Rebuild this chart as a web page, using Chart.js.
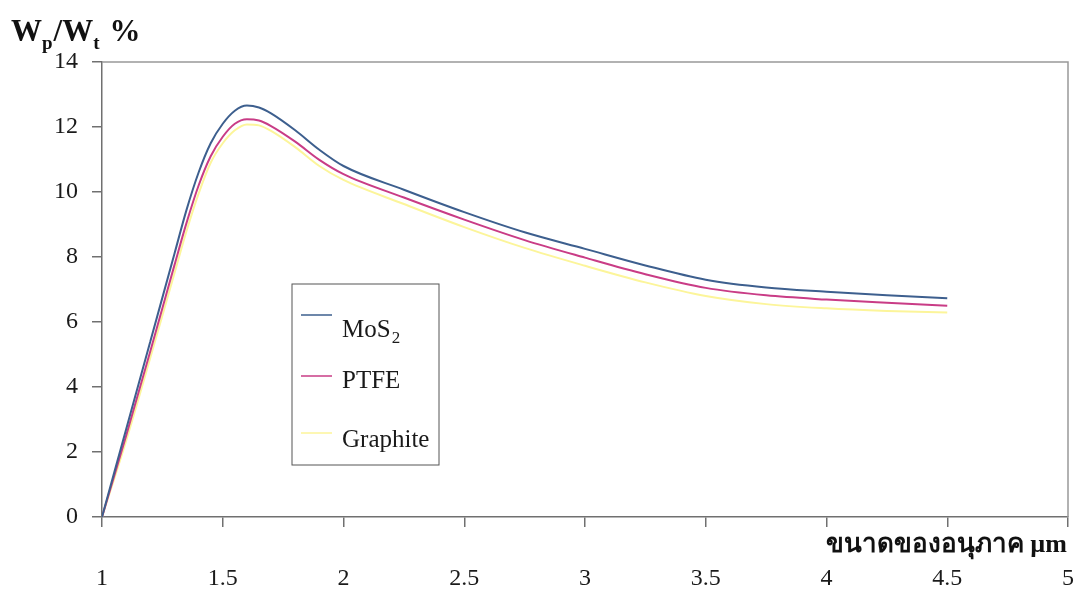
<!DOCTYPE html>
<html>
<head>
<meta charset="utf-8">
<script src="https://cdn.jsdelivr.net/npm/chart.js@4.4.1/dist/chart.umd.min.js"></script>
<style>
  html, body { margin: 0; padding: 0; background: #fff; overflow: hidden; }
</style>
</head>
<body>
<canvas id="myChart" width="1078" height="590"></canvas>
<script>
// particle size (um)
var sizes = [1.0, 1.1, 1.2, 1.3, 1.35, 1.4, 1.45, 1.5, 1.55, 1.6, 1.65, 1.7, 1.8, 1.9, 2.0,
             2.25, 2.5, 2.75, 3.0, 3.25, 3.5, 3.75, 4.0, 4.25, 4.5];

// Wp/Wt % for each lubricant
var mos2 = [0, 2.7, 5.4, 8.1, 9.45, 10.6, 11.5, 12.1, 12.5, 12.66, 12.6, 12.42, 11.9, 11.3, 10.8,
            10.07, 9.38, 8.76, 8.25, 7.74, 7.3, 7.06, 6.93, 6.82, 6.73];
var ptfe = [0, 2.5, 5.1, 7.75, 9.05, 10.2, 11.1, 11.7, 12.1, 12.24, 12.2, 12.03, 11.55, 10.99, 10.55,
            9.83, 9.15, 8.52, 7.98, 7.47, 7.05, 6.82, 6.69, 6.59, 6.5];
var graphite = [0, 2.35, 4.9, 7.5, 8.8, 9.95, 10.9, 11.5, 11.9, 12.08, 12.05, 11.88, 11.38, 10.8, 10.37,
                9.63, 8.92, 8.28, 7.73, 7.22, 6.8, 6.55, 6.42, 6.34, 6.29];

var seriesNames = ["MoS", "PTFE", "Graphite"];
var seriesSubs = ["2", "", ""];
var seriesColors = ["#3d5f8e", "#c93c86", "#fcf59a"];

var xTicks = [1, 1.5, 2, 2.5, 3, 3.5, 4, 4.5, 5];
var yTicks = [0, 2, 4, 6, 8, 10, 12, 14];

var serif = "'Liberation Serif', 'DejaVu Serif', serif";

function toPoints(values) {
    return sizes.map(function(x, i) {
        return { x: x, y: values[i] };
    });
}

function makeSet(i, values) {
    return {
        label: seriesNames[i] + seriesSubs[i],
        data: toPoints(values),
        borderColor: seriesColors[i],
        borderWidth: 2,
        pointRadius: 0,
        fill: false,
        cubicInterpolationMode: 'monotone'
    };
}

// frame, heading, axis caption and boxed legend
var decorations = {
    id: 'decorations',
    afterDraw: function(chart) {
        var ctx = chart.ctx;
        var area = chart.chartArea;
        ctx.save();

        // top and right frame lines
        ctx.strokeStyle = '#999';
        ctx.lineWidth = 1.5;
        ctx.beginPath();
        ctx.moveTo(area.left, area.top);
        ctx.lineTo(area.right, area.top);
        ctx.lineTo(area.right, area.bottom);
        ctx.stroke();

        // heading Wp/Wt %
        ctx.fillStyle = '#111';
        ctx.textBaseline = 'alphabetic';
        ctx.textAlign = 'left';
        var big = 'bold 31px ' + serif;
        var small = 'bold 19px ' + serif;
        var x = 11, base = 41;
        ctx.font = big; ctx.fillText('W', x, base); x += ctx.measureText('W').width;
        ctx.font = small; ctx.fillText('p', x, base + 8); x += ctx.measureText('p').width + 1;
        ctx.font = big; ctx.fillText('/', x, base); x += ctx.measureText('/').width;
        ctx.fillText('W', x, base); x += ctx.measureText('W').width;
        ctx.font = small; ctx.fillText('t', x, base + 8); x += ctx.measureText('t').width + 10;
        ctx.font = big; ctx.fillText('%', x, base);

        // x axis caption
        ctx.font = 'bold 26px ' + serif;
        ctx.textAlign = 'right';
        ctx.fillText('ขนาดของอนุภาค µm', area.right - 1, 552);

        // legend box
        var bx = 292, by = 284, bw = 147, bh = 181;
        ctx.strokeStyle = '#555';
        ctx.lineWidth = 1;
        ctx.strokeRect(bx, by, bw, bh);
        var lineRows = [315, 376, 433];
        var textRows = [337, 388, 447];
        ctx.textAlign = 'left';
        chart.data.datasets.forEach(function(ds, i) {
            ctx.strokeStyle = seriesColors[i];
            ctx.lineWidth = 1.5;
            ctx.beginPath();
            ctx.moveTo(bx + 9, lineRows[i]);
            ctx.lineTo(bx + 40, lineRows[i]);
            ctx.stroke();
            ctx.fillStyle = '#1a1a1a';
            ctx.font = '25px ' + serif;
            ctx.fillText(seriesNames[i], bx + 50, textRows[i]);
            if (seriesSubs[i]) {
                var w = ctx.measureText(seriesNames[i]).width;
                ctx.font = '17px ' + serif;
                ctx.fillText(seriesSubs[i], bx + 51 + w, textRows[i] + 6);
            }
        });
        ctx.restore();
    }
};

var myChart = new Chart(document.getElementById('myChart'), {
    type: 'line',
    data: {
        datasets: [makeSet(0, mos2), makeSet(1, ptfe), makeSet(2, graphite)]
    },
    options: {
        responsive: false,
        animation: false,
        layout: { padding: { top: 62, right: 10, left: 0, bottom: 0 } },
        plugins: {
            legend: { display: false },
            tooltip: { enabled: false }
        },
        scales: {
            x: {
                type: 'linear',
                min: 1,
                max: 5,
                afterBuildTicks: function(axis) {
                    axis.ticks = xTicks.map(function(v) { return { value: v }; });
                },
                afterFit: function(axis) {
                    axis.height = 73;
                    axis.paddingLeft = 0;
                    axis.paddingRight = 0;
                },
                border: { display: true, color: '#707070', width: 1.5 },
                grid: { drawOnChartArea: false, drawTicks: true, tickLength: 10, color: '#707070', lineWidth: 1.5 },
                ticks: {
                    padding: 37,
                    color: '#1a1a1a',
                    font: { family: serif, size: 24 },
                    maxRotation: 0,
                    autoSkip: false,
                    callback: function(v) { return String(v); }
                }
            },
            y: {
                type: 'linear',
                min: 0,
                max: 14,
                afterBuildTicks: function(axis) {
                    axis.ticks = yTicks.map(function(v) { return { value: v }; });
                },
                afterFit: function(axis) { axis.width = 102; },
                border: { display: true, color: '#707070', width: 1.5 },
                grid: { drawOnChartArea: false, drawTicks: true, tickLength: 10, color: '#707070', lineWidth: 1.5 },
                ticks: {
                    padding: 14,
                    color: '#1a1a1a',
                    font: { family: serif, size: 24 }
                }
            }
        }
    },
    plugins: [decorations]
});
</script>
</body>
</html>
